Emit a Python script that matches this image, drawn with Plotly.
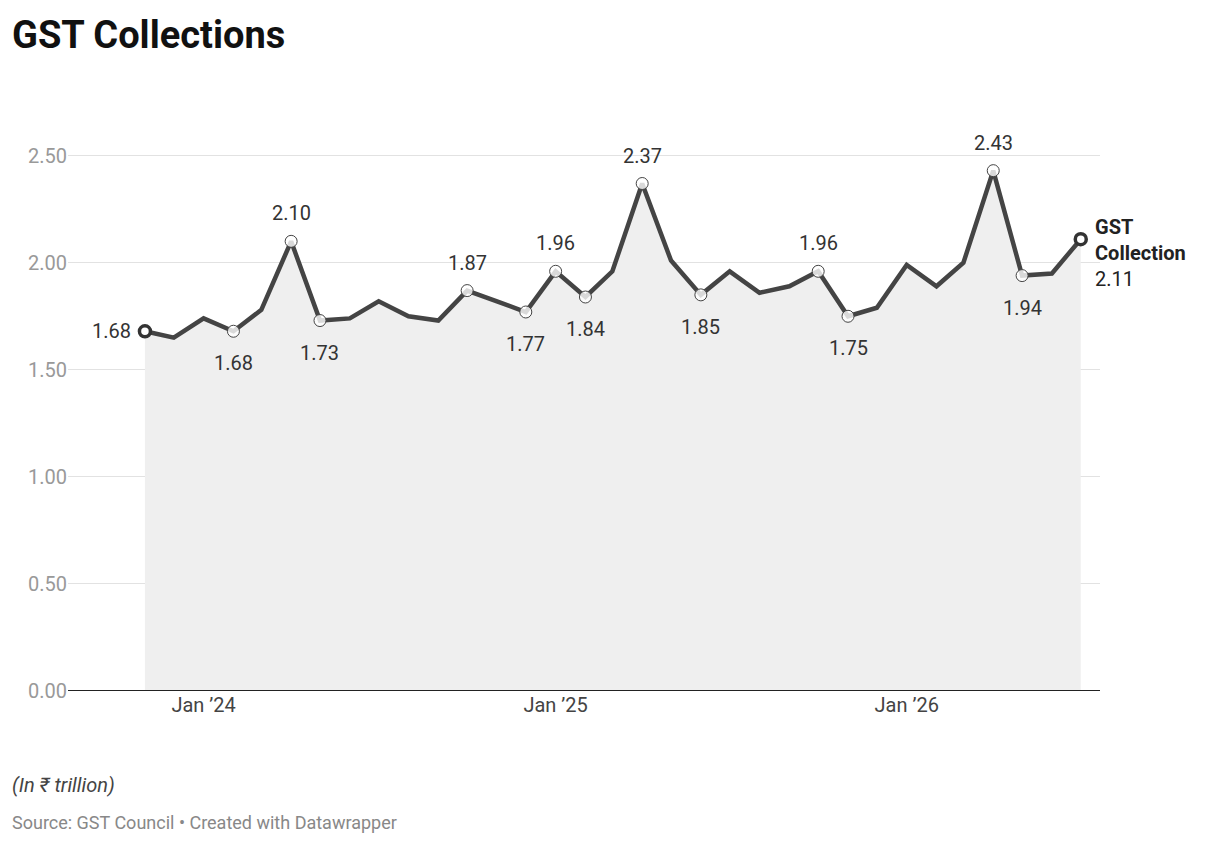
import plotly.graph_objects as go
import pandas as pd

# monthly GST collections, Nov 2023 - Jul 2026 (in Rs trillion)
months = pd.date_range("2023-11-01", "2026-07-01", freq="MS")
values = [1.68, 1.65, 1.74, 1.68, 1.78, 2.10, 1.73, 1.74, 1.82, 1.75, 1.73, 1.87,
          1.82, 1.77, 1.96, 1.84, 1.96, 2.37, 2.01, 1.85, 1.96, 1.86, 1.89, 1.96,
          1.75, 1.79, 1.99, 1.89, 2.00, 2.43, 1.94, 1.95, 2.11]

# labelled points: index -> label position
labelled = {0: "left", 3: "below", 5: "above", 6: "below", 11: "above", 13: "below",
            14: "above", 15: "below", 17: "above", 19: "below", 23: "above",
            24: "below", 29: "above", 30: "below"}

fig = go.Figure()
fig.add_trace(go.Scatter(x=months, y=values, mode="lines", fill="tozeroy",
                         fillcolor="#efefef", line=dict(color="#444444", width=4.5),
                         hoverinfo="skip"))
idx = list(labelled)
fig.add_trace(go.Scatter(x=[months[i] for i in idx], y=[values[i] for i in idx],
                         mode="markers",
                         marker=dict(size=12, color="rgba(255,255,255,0.8)",
                                     line=dict(color="#444444", width=1))))
fig.add_trace(go.Scatter(x=[months[0], months[-1]], y=[values[0], values[-1]], mode="markers",
                         marker=dict(size=11, color="white", line=dict(color="#333333", width=3.5))))

for i, pos in labelled.items():
    txt = f"{values[i]:.2f}"
    if pos == "above":
        fig.add_annotation(x=months[i], y=values[i], text=txt, showarrow=False, yshift=28)
    elif pos == "below":
        fig.add_annotation(x=months[i], y=values[i], text=txt, showarrow=False, yshift=-32)
    else:
        fig.add_annotation(x=months[i], y=values[i], text=txt, showarrow=False,
                           xanchor="right", xshift=-12)

fig.add_annotation(x=months[-1], y=values[-1], xanchor="left", xshift=12, yshift=-14,
                   align="left", showarrow=False,
                   text="<b>GST<br>Collection</b><br>2.11", font=dict(size=20, color="#222"))

fig.add_annotation(xref="paper", yref="paper", x=-0.056, y=1.11, xanchor="left", yanchor="middle",
                   showarrow=False, text="<b>GST Collections</b>",
                   font=dict(size=38, color="#111"))
fig.add_annotation(xref="paper", yref="paper", x=-0.056, y=-0.159, xanchor="left", yanchor="middle",
                   showarrow=False, text="<i>(In ₹ trillion)</i>", font=dict(size=20, color="#444"))
fig.add_annotation(xref="paper", yref="paper", x=-0.056, y=-0.222, xanchor="left", yanchor="middle",
                   showarrow=False, text="Source: GST Council • Created with Datawrapper",
                   font=dict(size=18, color="#888"))

fig.update_layout(
    width=1220, height=846, showlegend=False,
    plot_bgcolor="white", paper_bgcolor="white",
    margin=dict(l=60, r=128, t=92, b=163),
    font=dict(family="Roboto", size=20, color="#333"),
    xaxis=dict(range=["2023-08-13", "2026-07-21"], tickvals=["2024-01-01", "2025-01-01", "2026-01-01"],
               ticktext=["Jan ’24", "Jan ’25", "Jan ’26"], showgrid=False,
               tickfont=dict(size=20, color="#444"), ticks=""),
    yaxis=dict(range=[0, 2.76], tickvals=[0, 0.5, 1, 1.5, 2, 2.5], tickformat=".2f",
               gridcolor="#e2e2e2", zeroline=False, showline=False,
               tickfont=dict(size=20, color="#999")),
)
fig.add_shape(type="line", xref="paper", yref="y", x0=0, x1=1, y0=0, y1=0,
              line=dict(color="#222", width=2))
fig.write_html("out.html")
